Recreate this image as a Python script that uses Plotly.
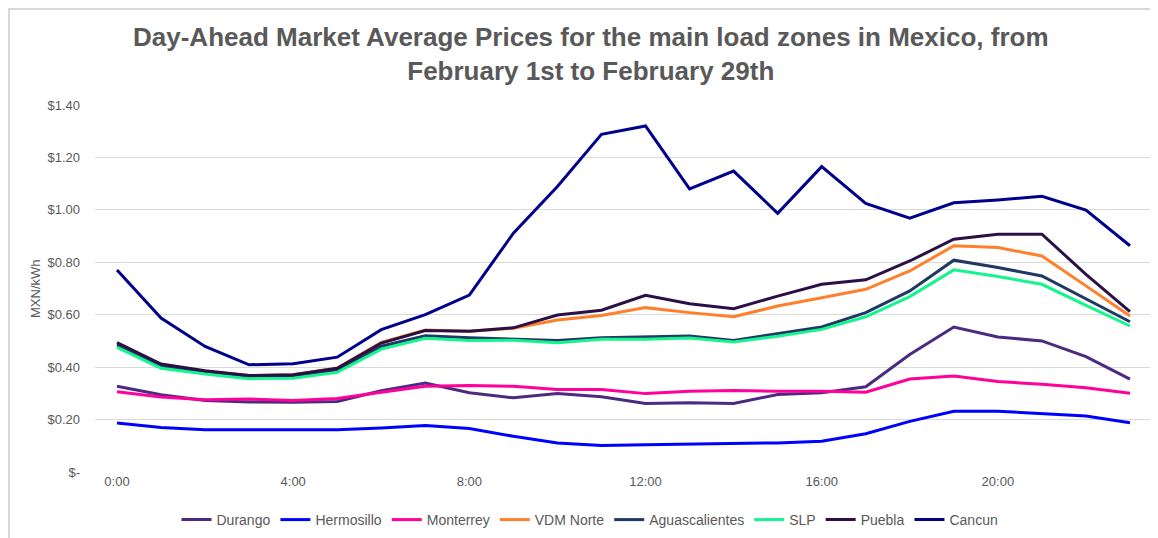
import plotly.graph_objects as go

hours = list(range(24))
tick_hours = [0, 4, 8, 12, 16, 20]
tick_labels = ["0:00", "4:00", "8:00", "12:00", "16:00", "20:00"]
y_ticks = [0, 0.2, 0.4, 0.6, 0.8, 1.0, 1.2, 1.4]
y_tick_labels = ["$-", "$0.20", "$0.40", "$0.60", "$0.80", "$1.00", "$1.20", "$1.40"]

durango = [0.327, 0.295, 0.273, 0.267, 0.266, 0.269, 0.310, 0.339, 0.302, 0.283, 0.299, 0.287,
           0.261, 0.264, 0.261, 0.296, 0.302, 0.325, 0.448, 0.553, 0.515, 0.500, 0.440, 0.354]
hermosillo = [0.187, 0.170, 0.161, 0.161, 0.159, 0.161, 0.168, 0.177, 0.166, 0.136, 0.111, 0.101,
              0.104, 0.106, 0.107, 0.111, 0.117, 0.146, 0.193, 0.232, 0.232, 0.223, 0.214, 0.188]
monterrey = [0.306, 0.286, 0.276, 0.278, 0.273, 0.280, 0.304, 0.327, 0.330, 0.327, 0.315, 0.315,
             0.299, 0.308, 0.311, 0.308, 0.308, 0.304, 0.355, 0.366, 0.345, 0.335, 0.321, 0.300]
vdm_norte = [0.490, 0.410, 0.383, 0.368, 0.371, 0.397, 0.494, 0.542, 0.537, 0.548, 0.580, 0.597,
             0.627, 0.608, 0.592, 0.633, 0.665, 0.697, 0.767, 0.863, 0.856, 0.824, 0.710, 0.595]
aguascalientes = [0.485, 0.405, 0.380, 0.365, 0.367, 0.390, 0.480, 0.520, 0.512, 0.508, 0.502, 0.512,
                  0.515, 0.519, 0.502, 0.527, 0.553, 0.608, 0.691, 0.808, 0.780, 0.748, 0.659, 0.573]
slp = [0.475, 0.396, 0.374, 0.356, 0.358, 0.380, 0.469, 0.510, 0.502, 0.503, 0.493, 0.506,
       0.506, 0.511, 0.496, 0.518, 0.544, 0.592, 0.669, 0.771, 0.746, 0.716, 0.636, 0.557]
puebla = [0.494, 0.412, 0.386, 0.368, 0.371, 0.396, 0.492, 0.540, 0.537, 0.550, 0.599, 0.617,
          0.674, 0.642, 0.623, 0.671, 0.716, 0.733, 0.805, 0.888, 0.907, 0.907, 0.754, 0.612]
cancun = [0.771, 0.587, 0.479, 0.409, 0.413, 0.438, 0.543, 0.600, 0.675, 0.911, 1.089, 1.288,
          1.320, 1.080, 1.148, 0.987, 1.165, 1.025, 0.968, 1.027, 1.038, 1.052, 0.999, 0.863]

series = [
    ("Durango", durango, "#4B2A82"),
    ("Hermosillo", hermosillo, "#0000FF"),
    ("Monterrey", monterrey, "#FF0099"),
    ("VDM Norte", vdm_norte, "#FF7F2A"),
    ("Aguascalientes", aguascalientes, "#1F3864"),
    ("SLP", slp, "#14F58F"),
    ("Puebla", puebla, "#2B1045"),
    ("Cancun", cancun, "#00008B"),
]

fig = go.Figure()
for name, vals, color in series:
    fig.add_trace(go.Scatter(x=hours, y=vals, name=name, mode="lines",
                             line=dict(color=color, width=3)))

grey = "#595959"
OFF = 8  # page body margin
W, H = 1158 - OFF, 538 - OFF
L, T = 95 - OFF, 105 - OFF
R = W - (1152 - OFF)
B = H - (472 - OFF)
PW, PH = W - L - R, H - T - B


def px(xp):
    return (xp - OFF - L) / PW


def py(yp):
    return (H - B - (yp - OFF)) / PH


fig.update_layout(
    width=W, height=H,
    paper_bgcolor="white", plot_bgcolor="white",
    margin=dict(l=L, r=R, t=T, b=B, autoexpand=False),
    font=dict(family="Liberation Sans, Arial", size=13, color=grey),
    showlegend=True,
    legend=dict(orientation="h", x=px(590), xanchor="center", y=py(504), yanchor="top",
                font=dict(family="Liberation Sans, Arial", size=14, color=grey),
                itemwidth=30, tracegroupgap=0),
    xaxis=dict(range=[-0.5, 23.5], tickvals=tick_hours, ticktext=tick_labels,
               showgrid=False, zeroline=False, showline=False, ticks="",
               automargin=False, tickfont=dict(size=13, color=grey)),
    yaxis=dict(range=[0, 1.4], tickvals=y_ticks, ticktext=y_tick_labels,
               showgrid=True, gridcolor="#d9d9d9", gridwidth=1, zeroline=False,
               showline=False, ticks="", ticklen=0, automargin=False,
               ticklabelstandoff=14,
               tickfont=dict(size=13, color=grey)),
    annotations=[
        dict(text="Day-Ahead Market Average Prices for the main load zones in Mexico, from<br>February 1st to February 29th",
             xref="paper", yref="paper", x=px(591), y=py(20), xanchor="center", yanchor="top",
             showarrow=False, align="center",
             font=dict(family="Liberation Sans, Arial", size=26, color=grey, weight="bold")),
        dict(text="MXN/kWh", xref="paper", yref="paper", x=px(35), y=py(288),
             xanchor="center", yanchor="middle", textangle=-90, showarrow=False,
             font=dict(family="Liberation Sans, Arial", size=13, color=grey)),
    ],
    shapes=[
        dict(type="line", xref="paper", yref="paper", x0=px(8), x1=px(1170),
             y0=py(9), y1=py(9), line=dict(color="#d9d9d9", width=2)),
        dict(type="line", xref="paper", yref="paper", x0=px(9), x1=px(9),
             y0=py(9), y1=py(560), line=dict(color="#d9d9d9", width=2)),
    ],
)

fig.write_html("out.html")
